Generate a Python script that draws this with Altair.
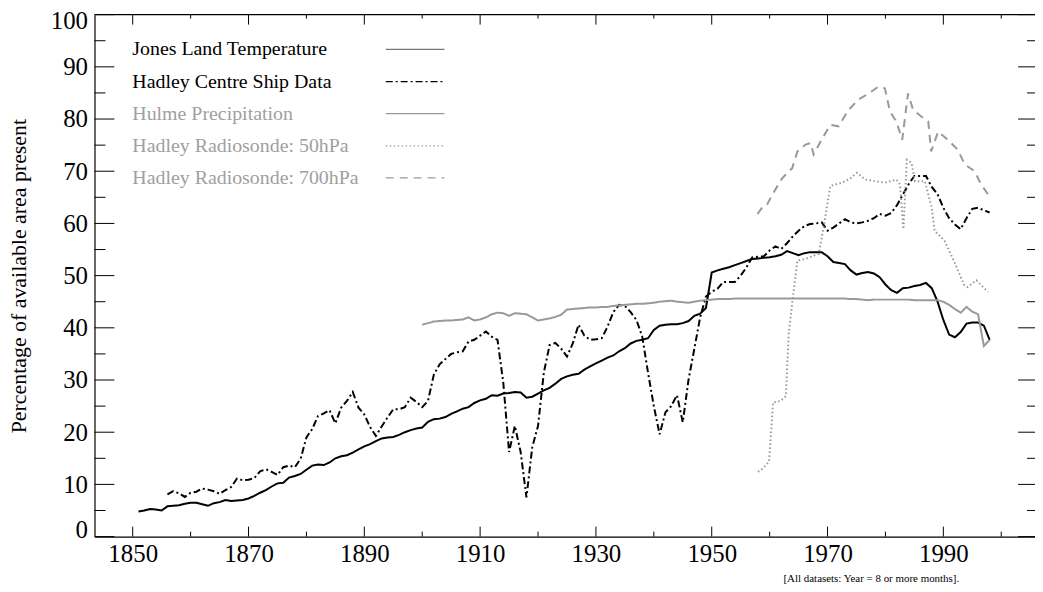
import altair as alt
import pandas as pd

# ---------------- data ----------------
jones_years = list(range(1851, 1999))
jones_vals = [
    4.8, 5.0, 5.3, 5.2, 5.0, 5.8, 5.9, 6.0, 6.3, 6.5,
    6.5, 6.2, 5.9, 6.4, 6.6, 7.0, 6.8, 6.9, 7.0, 7.3,
    7.8, 8.4, 8.9, 9.6, 10.2, 10.3, 11.3, 11.6, 12.0, 12.8,
    13.6, 13.8, 13.7, 14.2, 15.0, 15.4, 15.6, 16.1, 16.7, 17.3,
    17.7, 18.3, 18.8, 19.0, 19.1, 19.5, 20.0, 20.4, 20.7, 20.9,
    22.0, 22.5, 22.6, 22.9, 23.5, 24.0, 24.5, 24.8, 25.6, 26.1,
    26.4, 27.1, 27.0, 27.4, 27.5, 27.7, 27.6, 26.6, 26.8, 27.4,
    28.0, 28.5, 29.3, 30.2, 30.7, 31.0, 31.2, 32.0, 32.6, 33.2,
    33.7, 34.3, 34.7, 35.5, 36.1, 37.0, 37.5, 37.7, 38.0, 39.6,
    40.4, 40.6, 40.7, 40.7, 40.9, 41.3, 42.3, 42.7, 43.8, 50.6,
    51.0, 51.3, 51.6, 52.0, 52.4, 52.8, 53.2, 53.3, 53.4, 53.5,
    53.7, 54.0, 54.7, 54.3, 53.9, 54.3, 54.5, 54.5, 54.5, 53.7,
    52.6, 52.4, 52.2, 51.0, 50.2, 50.5, 50.7, 50.4, 49.7, 48.3,
    47.2, 46.7, 47.6, 47.7, 48.0, 48.2, 48.6, 47.6, 45.0, 41.5,
    38.7, 38.2, 39.2, 40.8, 41.0, 41.0, 40.4, 37.7,
]

ship_years = list(range(1856, 1999))
ship_vals = [
    8.1, 8.7, 8.3, 7.6, 8.4, 8.6, 9.2, 9.0, 8.7, 8.2,
    8.9, 9.5, 11.1, 10.8, 10.9, 11.2, 12.5, 12.9, 12.4, 11.8,
    13.3, 13.6, 13.3, 14.9, 19.0, 20.6, 23.1, 23.6, 24.2, 21.7,
    24.7, 26.0, 27.7, 24.7, 23.4, 21.0, 19.3, 21.1, 22.8, 24.4,
    24.4, 24.8, 26.6, 25.8, 24.8, 26.0, 31.0, 33.0, 34.0, 35.0,
    35.3, 35.5, 37.4, 37.7, 38.5, 39.3, 38.3, 37.7, 29.5, 16.2,
    21.2, 16.2, 7.5, 17.1, 21.2, 31.4, 36.7, 37.1, 36.0, 34.5,
    37.0, 40.6, 38.5, 37.7, 37.8, 38.0, 40.2, 43.0, 44.4, 44.2,
    43.0, 41.5, 38.3, 31.4, 25.0, 19.6, 23.8, 25.0, 27.1, 21.9,
    30.1, 36.0, 42.0, 46.0, 46.9, 47.5, 48.8, 48.8, 48.8, 50.0,
    51.6, 53.5, 53.6, 53.7, 54.8, 55.6, 55.1, 56.2, 57.5, 58.6,
    59.5, 59.9, 60.0, 60.2, 58.6, 59.2, 60.0, 60.8, 60.2, 60.0,
    60.2, 60.5, 61.0, 61.8, 61.5, 62.0, 63.5, 65.5, 67.5, 69.1,
    69.1, 69.1, 67.0, 65.6, 63.0, 61.0, 59.8, 58.9, 61.0, 62.8,
    63.0, 62.5, 62.1,
]

hulme_years = list(range(1900, 1999))
hulme_vals = [
    40.6, 40.9, 41.2, 41.3, 41.4, 41.4, 41.5, 41.6, 42.0, 41.4,
    41.6, 42.0, 42.6, 42.9, 42.8, 42.3, 42.8, 42.7, 42.6, 42.0,
    41.4, 41.6, 41.8, 42.1, 42.5, 43.5, 43.6, 43.7, 43.8, 43.9,
    43.9, 44.0, 44.0, 44.2, 44.3, 44.4, 44.5, 44.6, 44.6, 44.7,
    44.8, 45.0, 45.1, 45.2, 45.0, 44.9, 44.8, 45.0, 45.2, 45.3,
    45.4, 45.5, 45.5, 45.5, 45.6, 45.6, 45.6, 45.6, 45.6, 45.6,
    45.6, 45.6, 45.6, 45.6, 45.6, 45.6, 45.6, 45.6, 45.6, 45.6,
    45.6, 45.6, 45.6, 45.6, 45.5, 45.5, 45.4, 45.3, 45.4, 45.4,
    45.4, 45.4, 45.4, 45.4, 45.4, 45.3, 45.3, 45.3, 45.3, 45.3,
    45.0, 44.4, 43.6, 42.9, 44.0, 43.1, 42.6, 36.5, 37.7,
]

sonde50_years = [1958.0, 1958.8, 1959.9, 1960.6, 1961.9, 1962.8, 1963.3, 1963.9,
                 1964.8, 1966.2, 1968.5, 1969.3, 1970.5, 1972.5, 1973.8, 1975.1,
                 1976.5, 1979.9, 1981.9, 1982.5, 1983.1, 1983.7, 1984.5, 1985.1,
                 1986.8, 1988.0, 1988.5, 1990.2, 1991.9, 1993.6, 1994.2, 1995.7, 1997.7]
sonde50_vals = [12.4, 13.0, 14.4, 25.7, 26.0, 26.9, 39.0, 44.7,
                52.9, 53.2, 54.2, 59.2, 67.2, 67.8, 68.5, 69.7,
                68.4, 67.8, 68.4, 67.5, 58.9, 72.2, 71.6, 68.1,
                68.1, 63.0, 58.6, 56.7, 52.6, 48.2, 47.8, 49.1, 46.9]

sonde700_years = [1957.9, 1959.0, 1959.6, 1960.5, 1962.2, 1963.9, 1964.8, 1966.2,
                  1967.1, 1967.6, 1969.1, 1970.5, 1971.9, 1973.6, 1975.3, 1977.1,
                  1978.8, 1979.9, 1980.8, 1981.9, 1982.9, 1983.9, 1984.8, 1986.2,
                  1987.4, 1987.9, 1989.1, 1990.8, 1992.5, 1993.7, 1995.4, 1996.5, 1997.9]
sonde700_vals = [61.8, 63.5, 63.7, 65.6, 68.7, 70.6, 73.8, 75.1,
                 75.4, 73.2, 76.3, 78.9, 78.6, 81.7, 83.7, 84.9,
                 86.2, 85.9, 81.4, 79.5, 76.0, 84.9, 81.7, 80.5,
                 79.5, 73.8, 77.6, 76.0, 74.1, 71.3, 70.0, 67.5, 65.3]

series_names = ["Jones Land Temperature", "Hadley Centre Ship Data", "Hulme Precipitation",
                "Hadley Radiosonde: 50hPa", "Hadley Radiosonde: 700hPa"]

x_major = [1850, 1870, 1890, 1910, 1930, 1950, 1970, 1990]
x_minor = [1860, 1880, 1900, 1920, 1940, 1960, 1980, 2000]
y_major = list(range(0, 101, 10))
y_minor = list(range(5, 100, 10))

# ---------------- styling ----------------
W, H = 946, 525
FONT = "Liberation Serif"
GRAY = "#999999"
series_years = [jones_years, ship_years, hulme_years, sonde50_years, sonde700_years]
series_vals = [jones_vals, ship_vals, hulme_vals, sonde50_vals, sonde700_vals]
series_color = ["black", "black", GRAY, GRAY, GRAY]
legend_line_color = ["#777777", "black", GRAY, GRAY, GRAY]
series_text_color = ["black", "black", "#a0a0a0", "#a0a0a0", "#a0a0a0"]
series_dash = [[1, 0], [7, 3, 2, 3], [1, 0], [1.5, 2.5], [8, 6]]
series_width = [2, 2, 2, 2, 2]

xs = alt.Scale(domain=[1843.4, 1843.4 + W / 5.824], nice=False, zero=False)
ys = alt.Scale(domain=[0, 100], nice=False, zero=False)

layers = []

# base layer with axes
base_df = pd.DataFrame({"year": jones_years, "value": jones_vals})
axis_layer = alt.Chart(base_df).mark_line(
    color=series_color[0], strokeWidth=series_width[0]
).encode(
    x=alt.X("year:Q", scale=xs, axis=alt.Axis(
        values=x_major, format="d", labelFont=FONT, labelFontSize=25,
        labelColor="black", labelPadding=5, ticks=False, tickSize=0,
        domain=True, domainColor="black", domainWidth=1.2, grid=False, title=None)),
    y=alt.Y("value:Q", scale=ys, axis=alt.Axis(
        values=y_major, format="d", labelFont=FONT, labelFontSize=25,
        labelColor="black", labelPadding=7, labelFlush=True, labelFlushOffset=6,
        ticks=False, tickSize=0,
        domain=True, domainColor="black", domainWidth=1.2, grid=False,
        title="Percentage of available area present", titleFont=FONT,
        titleFontSize=22, titleFontWeight="normal", titleColor="black",
        titleX=-76, titleBaseline="middle")),
)
layers.append(axis_layer)

for i in range(1, 5):
    df = pd.DataFrame({"year": series_years[i], "value": series_vals[i]})
    layers.append(
        alt.Chart(df).mark_line(
            color=series_color[i], strokeWidth=series_width[i],
            strokeDash=series_dash[i]
        ).encode(x=alt.X("year:Q", scale=xs), y=alt.Y("value:Q", scale=ys))
    )

# top frame line
layers.append(alt.Chart(pd.DataFrame({"a": [0]})).mark_rule(
    color="black", strokeWidth=1.2).encode(
    x=alt.value(0), x2=alt.value(W), y=alt.value(0)))

# inward ticks
def xticks(vals, y0, y1):
    return alt.Chart(pd.DataFrame({"year": vals})).mark_rule(
        color="black", strokeWidth=1).encode(
        x=alt.X("year:Q", scale=xs), y=alt.value(y0), y2=alt.value(y1))

def yticks(vals, x0, x1):
    return alt.Chart(pd.DataFrame({"value": vals})).mark_rule(
        color="black", strokeWidth=1).encode(
        y=alt.Y("value:Q", scale=ys), x=alt.value(x0), x2=alt.value(x1))

layers += [
    xticks(x_major, H, H - 10), xticks(x_minor, H, H - 5),
    xticks(x_major, 0, 10), xticks(x_minor, 0, 4),
    yticks(y_major, 0, 20), yticks(y_minor, 0, 11),
    yticks(y_major, W - 17, W), yticks(y_minor, W - 8, W),
]

# legend
for i, name in enumerate(series_names):
    yy = 35 + i * 32.3
    ldf = pd.DataFrame({"name": [name]})
    layers.append(alt.Chart(ldf).mark_text(
        align="left", baseline="middle", font=FONT, fontSize=20,
        color=series_text_color[i]).encode(
        x=alt.value(38), y=alt.value(yy), text="name:N"))
    layers.append(alt.Chart(ldf).mark_rule(
        color=legend_line_color[i], strokeWidth=1.3, strokeDash=series_dash[i]).encode(
        x=alt.value(293), x2=alt.value(352), y=alt.value(yy)))

# footnote
layers.append(alt.Chart(pd.DataFrame({"t": ["[All datasets: Year = 8 or more months]."]})).mark_text(
    align="left", baseline="middle", font=FONT, fontSize=11, color="black").encode(
    x=alt.value(693), y=alt.value(568), text="t:N"))

chart = alt.layer(*layers).properties(
    width=W, height=H,
    autosize=alt.AutoSizeParams(type="none"),
    padding={"left": 87, "top": 5, "right": 0, "bottom": 46},
    background="white",
).configure_view(stroke="transparent")

chart.save("out.html", embed_options={"renderer": "svg", "actions": False})
